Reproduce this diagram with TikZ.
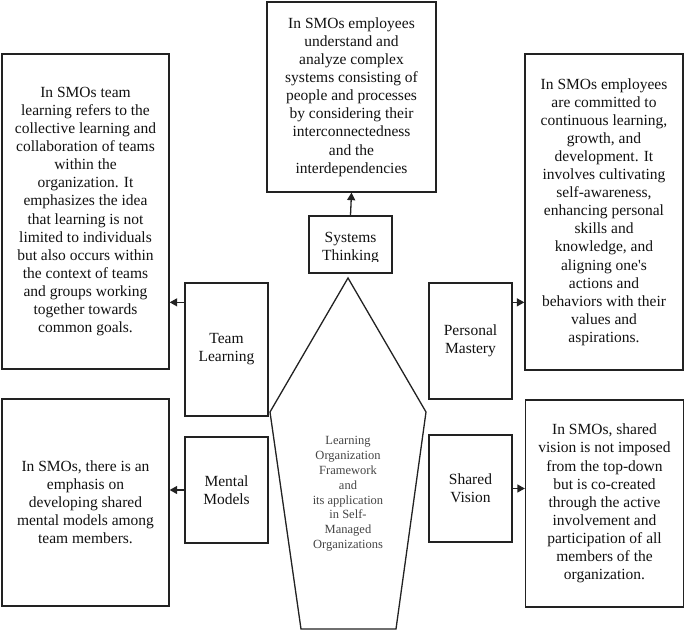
\documentclass[tikz,border=0pt]{standalone}
\usepackage{fontspec}
\setmainfont{Liberation Serif}[Ligatures=TeXOff]
\usetikzlibrary{arrows.meta,calc}
\newcommand{\bodyfont}{\fontsize{15.5}{18.1}\selectfont}
\newcommand{\smallfont}{\fontsize{12.5}{14.8}\selectfont}
\definecolor{linec}{HTML}{222222}
\definecolor{txtc}{HTML}{111111}
\definecolor{midc}{HTML}{444444}
\begin{document}
\begin{tikzpicture}[x=1pt,y=-1pt,
  box/.style={draw=linec, line width=1.3pt, inner sep=0pt, align=center, font=\bodyfont, text=txtc},
  arr/.style={draw=linec, line width=1.3pt, -{Triangle[length=7.5pt,width=8pt]}}]
\useasboundingbox (0,0) rectangle (685,631);
% top description
\node[box, minimum width=169pt, minimum height=190pt] (topT) at (351.5,97)
  {In SMOs employees\\understand and\\analyze complex\\systems consisting of\\people and processes\\by considering their\\interconnectedness\\and the\\interdependencies};
% Systems Thinking
\node[box, minimum width=83pt, minimum height=57pt] (st) at (350.5,244.5) {};
\begin{scope}
  \clip ($(st.north west)+(1,1)$) rectangle ($(st.south east)+(-1,-12)$);
  \node[align=center, font=\bodyfont, text=txtc, inner sep=0pt] (stlabel) at (350.5,248) {Systems\\Thinking};
\end{scope}
% left top
\node[box, minimum width=167pt, minimum height=315pt] (tlT) at (85.5,211.5)
  {In SMOs team\\learning refers to the\\collective learning and\\collaboration of teams\\within the\\organization. It\\emphasizes the idea\\that learning is not\\limited to individuals\\but also occurs within\\the context of teams\\and groups working\\together towards\\common goals.};
\node[box, minimum width=83pt, minimum height=133pt] (tl) at (226.5,349.5) {Team\\Learning};
% right top
\node[box, minimum width=158pt, minimum height=316pt] (pmT) at (604,212)
  {In SMOs employees\\are committed to\\continuous learning,\\growth, and\\development. It\\involves cultivating\\self-awareness,\\enhancing personal\\skills and\\knowledge, and\\aligning one's\\actions and\\behaviors with their\\values and\\aspirations.};
\node[box, minimum width=83pt, minimum height=116pt] (pm) at (470.5,341) {Personal\\Mastery};
% left bottom
\node[box, minimum width=167pt, minimum height=207pt] (mmT) at (85.5,502.5)
  {In SMOs, there is an\\emphasis on\\developing shared\\mental models among\\team members.};
\node[box, minimum width=83pt, minimum height=106pt] (mm) at (226.5,490) {Mental\\Models};
% right bottom
\node[box, minimum width=158pt, minimum height=207pt] (svT) at (604.5,503.5)
  {In SMOs, shared\\vision is not imposed\\from the top-down\\but is co-created\\through the active\\involvement and\\participation of all\\members of the\\organization.};
\node[box, minimum width=83pt, minimum height=107pt] (sv) at (470.5,488.5) {Shared\\Vision};
% centre pentagon
\coordinate (p1) at (348,278);
\coordinate (p2) at (426,412);
\coordinate (p3) at (396,629);
\coordinate (p4) at (301,629);
\coordinate (p5) at (270,412);
\draw[draw=linec, line width=1.3pt, line join=miter] (p1) -- (p2) -- (p3) -- (p4) -- (p5) -- cycle;
\node[align=center, font=\smallfont, text=midc, inner sep=0pt] (centre) at (348,494)
  {Learning\\Organization\\Framework\\and\\its application\\in Self-\\Managed\\Organizations};
% connectors
\draw[arr] (st.north) -- (topT.south);
\coordinate (a1) at ($(tl.north west)+(0,20)$);
\draw[arr] (a1) -- (a1 -| tlT.east);
\coordinate (a2) at ($(pm.north east)+(0,20)$);
\draw[arr] (a2) -- (a2 -| pmT.west);
\draw[arr] (mm.west) -- (mm.west -| mmT.east);
\draw[arr] (sv.east) -- (sv.east -| svT.west);
\end{tikzpicture}
\end{document}
